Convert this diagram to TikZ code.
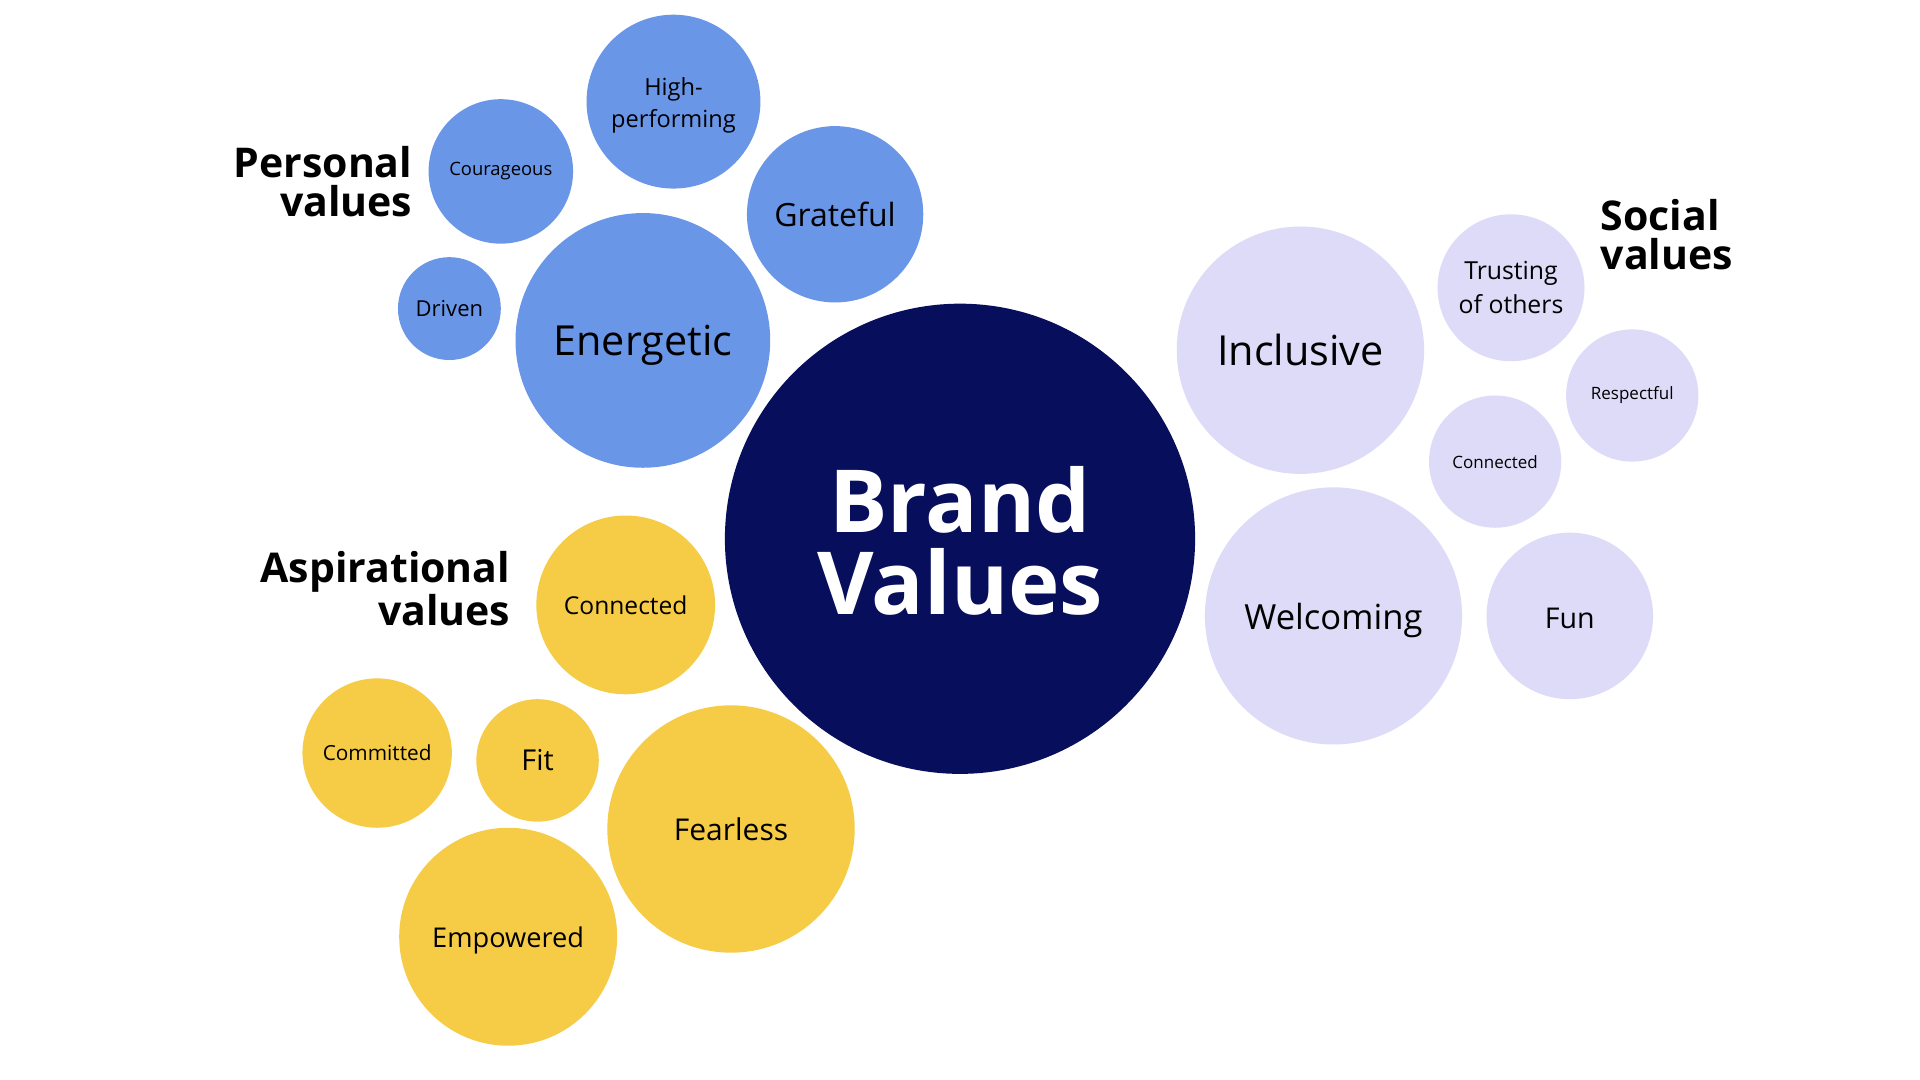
\documentclass[tikz,border=0pt]{standalone}
\usepackage{fontspec}
\setmainfont{Open Sans}
\newcommand\myfs[2]{\fontsize{#1}{#2}\selectfont}
\definecolor{pblue}{HTML}{6A96E8}
\definecolor{navy}{HTML}{070F5C}
\definecolor{gold}{HTML}{F6CC46}
\definecolor{lav}{HTML}{DEDBF8}
\tikzset{
  bub/.style={circle, inner sep=0pt, minimum size=#1*1.22449pt, align=center, text=black},
  pv/.style={bub=#1, fill=pblue},
  sv/.style={bub=#1, fill=lav},
  yv/.style={bub=#1, fill=gold},
  bv/.style={bub=#1, fill=navy, text=white, font=\bfseries\myfs{43.5}{41}},
  head/.style={font=\bfseries\myfs{20.5}{19.5}, inner sep=0pt, text=black},
  dy/.style={yshift=-#1*0.61224pt}
}
\begin{document}
\begin{tikzpicture}[x=0.61224pt,y=-0.61224pt]
\useasboundingbox[fill=white] (0,0) rectangle (1568,882);
% personal
\node[pv=104, font=\myfs{20.7}{28}] (energetic) at (525,278) {};
\node[font=\myfs{20.7}{28}, dy=4] (energetict) at (energetic.center) {Energetic};
\node[pv=72, font=\myfs{16}{22}] (grateful) at (682,175) {Grateful};
\node[pv=71] (highperf) at (550,83) {};
\node[font=\myfs{11.8}{16.3}, align=center, dy=3] (highperft) at (highperf.center) {High-\\performing};
\node[pv=59, font=\myfs{9.2}{12.5}] (courageous) at (409,140) {Courageous};
\node[pv=42, font=\myfs{11}{15}] (driven) at (367,252) {Driven};
% brand
\node[bv=192] (brand) at (784,440) {};
\node[font=\bfseries\myfs{43.5}{41}, text=white, align=center, dy=2] (brandt) at (brand.center) {Brand\\Values};
% social
\node[sv=101, font=\myfs{20.7}{28}] (inclusive) at (1062,286) {Inclusive};
\node[sv=105] (welcoming) at (1089,503) {};
\node[font=\myfs{17.3}{24}, dy=4] (welcomingt) at (welcoming.center) {Welcoming};
\node[sv=60, font=\myfs{12.4}{17}] (trusting) at (1234,235) {Trusting\\of others};
\node[sv=54, font=\myfs{8.5}{12}] (respectful) at (1333,323) {Respectful};
\node[sv=54, font=\myfs{8.5}{12}] (sconnected) at (1221,377) {Connected};
\node[sv=68] (fun) at (1282,503) {};
\node[font=\myfs{14.3}{20}, dy=2] (funt) at (fun.center) {Fun};
% aspirational
\node[yv=73, font=\myfs{12.3}{17}] (aconnected) at (511,494) {Connected};
\node[yv=61, font=\myfs{10.4}{14}] (committed) at (308,615) {Committed};
\node[yv=50, font=\myfs{14.4}{20}] (fit) at (439,621) {Fit};
\node[yv=101, font=\myfs{15}{20}] (fearless) at (597,677) {Fearless};
\node[yv=89] (empowered) at (415,765) {};
\node[font=\myfs{13.6}{19}, dy=3] (empoweredt) at (empowered.center) {Empowered};
% headings
\node[head, align=right, anchor=base east] (hpers) at (337,177) {Personal\\values};
\node[head, align=right, anchor=base east] (hasp) at (417,511) {Aspirational\\values};
\node[head, align=left, anchor=base west] (hsoc) at (1307,220) {Social\\values};
\end{tikzpicture}
\end{document}
